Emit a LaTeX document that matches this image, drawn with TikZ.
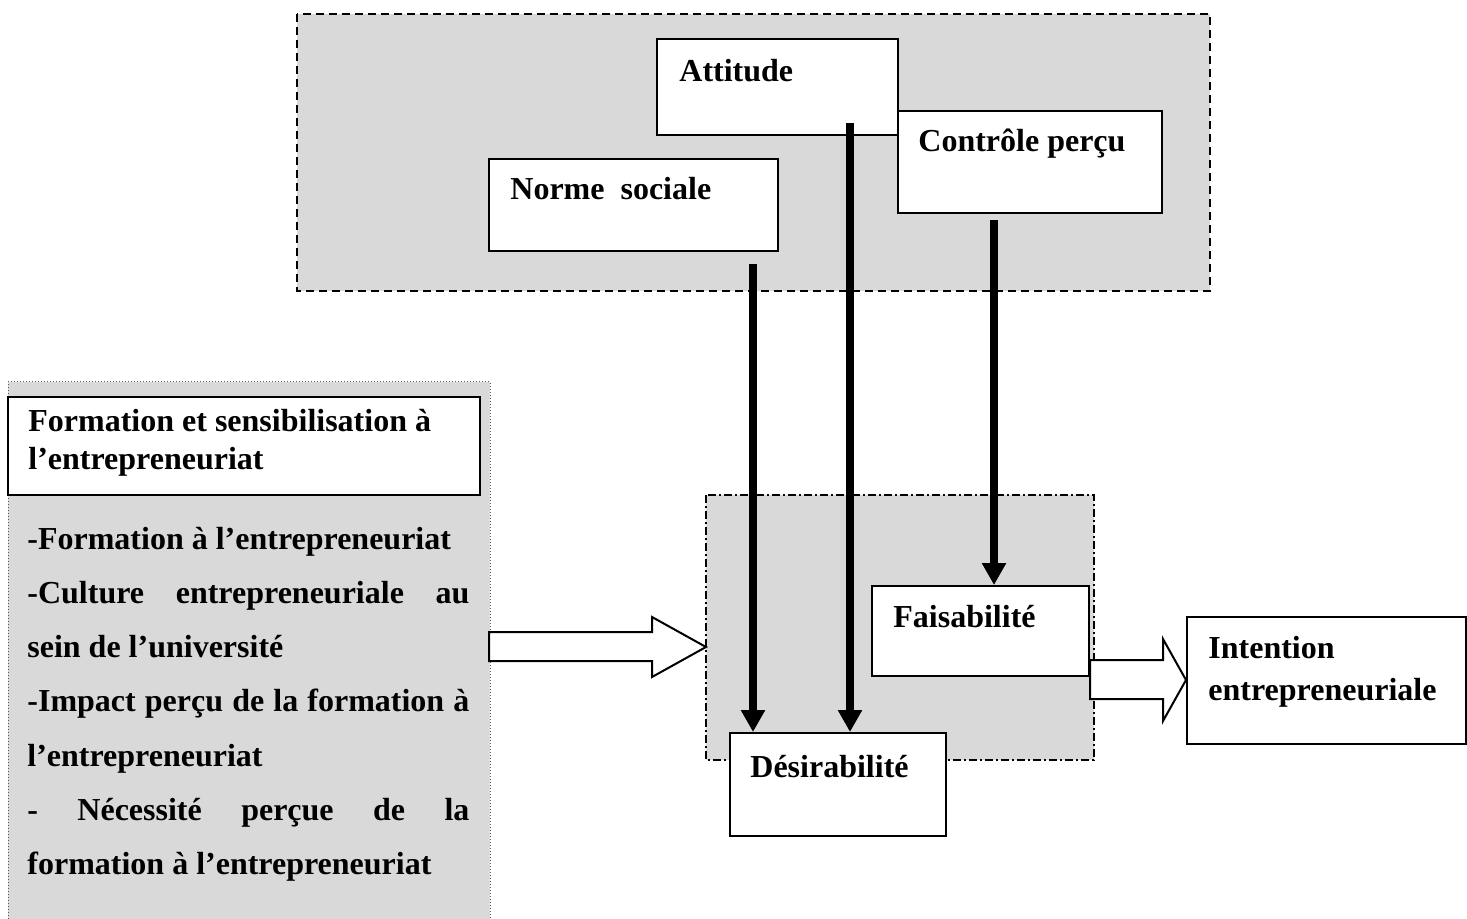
\documentclass[tikz,border=0pt]{standalone}
\usepackage{fontspec}
\setmainfont{Liberation Serif}
\usetikzlibrary{arrows.meta}
\definecolor{fondgris}{RGB}{217,217,217}
\tikzset{
  boite/.style={draw, fill=white, line width=1pt, inner sep=0pt},
  texte/.style={inner sep=0pt, anchor=base west, font=\bfseries\fontsize{16}{19}\selectfont},
  fleche/.style={line width=4pt, -{Triangle[width=11.5pt,length=11pt]}},
  creuse/.style={draw, fill=white, line width=1pt, line join=miter},
}
\begin{document}
\begin{tikzpicture}[x=0.5pt,y=-0.5pt]
\useasboundingbox (0,0) rectangle (1467,919);

% zones grises
\draw[fill=fondgris, line width=0.75pt, dash pattern=on 4pt off 2.5pt] (297,14) rectangle (1210,291);
\fill[fondgris] (8,382) rectangle (490,919);
\draw[densely dotted, line width=0.5pt, gray!70!black] (8,919) -- (8,382) -- (490,382) -- (490,919);
\draw[fill=fondgris, line width=0.75pt, dash pattern=on 4pt off 1.5pt on 1pt off 1.5pt] (706,495) rectangle (1094,760);

% boites
\node[boite, minimum width=120.5pt, minimum height=48pt] (attitude) at (777.5,87) {};
\node[boite, minimum width=144.5pt, minimum height=46pt] (norme) at (633.5,205) {};
\node[boite, minimum width=132pt, minimum height=51pt] (controle) at (1030,162) {};
\node[boite, minimum width=236pt, minimum height=49pt] (formation) at (244,446) {};
\node[boite, minimum width=108.5pt, minimum height=45pt] (faisabilite) at (980.5,631) {};
\node[boite, minimum width=108pt, minimum height=51.5pt] (desirabilite) at (838,784.5) {};
\node[boite, minimum width=139.5pt, minimum height=63.5pt] (intention) at (1326.5,680.5) {};

% textes
\node[texte] (attitudeT) at (679,82) {Attitude};
\node[texte] (normeT) at (510,200) {Norme\ \ sociale};
\node[texte] (controleT) at (918,152) {Contrôle perçu};
\node[texte] (faisabiliteT) at (893,627) {Faisabilité};
\node[texte] (desirabiliteT) at (750,777) {Désirabilité};
\node[texte] (intentionT1) at (1208,658) {Intention};
\node[texte] (intentionT2) at (1208,700) {entrepreneuriale};
\node[texte] (formationT1) at (28,432) {Formation et sensibilisation à};
\node[texte] (formationT2) at (28,470) {l’entrepreneuriat};

\foreach \ligne [count=\i] in {
  {-Formation à l’entrepreneuriat},
  {\makebox[221pt][s]{-Culture entrepreneuriale au}},
  {sein de l’université},
  {\makebox[221pt][s]{-Impact perçu de la formation à}},
  {l’entrepreneuriat},
  {\makebox[221pt][s]{- Nécessité perçue de la}},
  {formation à l’entrepreneuriat}}
\node[texte] (liste\i) at (27,{549+54.3*(\i-1)}) {\ligne};

% fleches
\coordinate (depNorme) at (753,264);
\coordinate (depAttitude) at (850,123);
\coordinate (depControle) at (994,220);
\draw[fleche] (depNorme) -- (depNorme |- desirabilite.north);
\draw[fleche] (depAttitude) -- (depAttitude |- desirabilite.north);
\draw[fleche] (depControle) -- (depControle |- faisabilite.north);

% fleches creuses
\draw[creuse] (489,632) -- (652,632) -- (652,617) -- (706,647) -- (652,677) -- (652,661) -- (489,661) -- cycle;
\draw[creuse] (faisabilite.east |- 0,660) -- (1163,660) -- (1163,639) -- (intention.west |- 0,680) -- (1163,721) -- (1163,699) -- (faisabilite.east |- 0,699) -- cycle;

\end{tikzpicture}
\end{document}
